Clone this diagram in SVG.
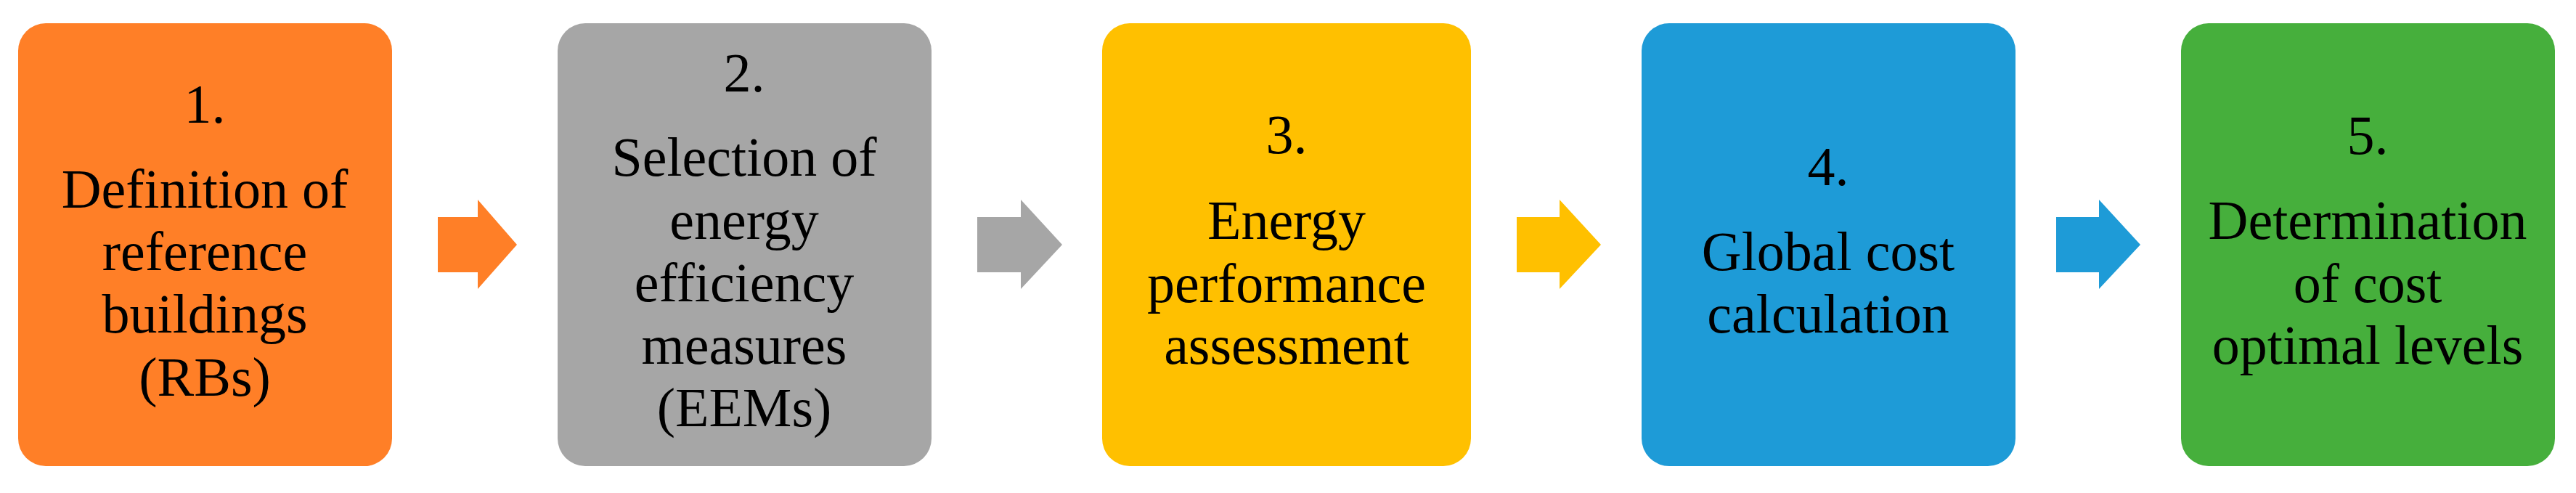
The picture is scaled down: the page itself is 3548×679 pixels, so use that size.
<svg xmlns="http://www.w3.org/2000/svg" width="3548" height="679" viewBox="0 0 3548 679">
<style>
.box{stroke:none}
.t{font-family:"Liberation Serif","Times New Roman",serif;font-size:76px;fill:#000;text-anchor:middle}
</style>
<rect x="0" y="0" width="3548" height="679" fill="#fff"/>
<g id="connectors">
<polygon fill="#FF7F27" points="603,299 658,299 658,275 712,337 658,398 658,375 603,375"/>
<polygon fill="#A6A6A6" points="1346,299 1406,299 1406,275 1463,337 1406,398 1406,375 1346,375"/>
<polygon fill="#FFC000" points="2089,299 2148,299 2148,275 2205,337 2148,398 2148,375 2089,375"/>
<polygon fill="#1E9BD7" points="2832,299 2891,299 2891,275 2948,337 2891,398 2891,375 2832,375"/>
</g>
<g id="node1">
<rect class="box" x="25" y="32" width="515" height="610" rx="38" fill="#FF7F27"/>
<text class="t" x="282" y="169">1.</text>
<text class="t" x="282" y="286">Definition of</text>
<text class="t" x="282" y="372">reference</text>
<text class="t" x="282" y="458">buildings</text>
<text class="t" x="282" y="545">(RBs)</text>
</g>
<g id="node2">
<rect class="box" x="768" y="32" width="515" height="610" rx="38" fill="#A6A6A6"/>
<text class="t" x="1025" y="126">2.</text>
<text class="t" x="1025" y="242">Selection of</text>
<text class="t" x="1025" y="329">energy</text>
<text class="t" x="1025" y="415">efficiency</text>
<text class="t" x="1025" y="501">measures</text>
<text class="t" x="1025" y="587">(EEMs)</text>
</g>
<g id="node3">
<rect class="box" x="1518" y="32" width="508" height="610" rx="38" fill="#FFC000"/>
<text class="t" x="1772" y="211">3.</text>
<text class="t" x="1772" y="329">Energy</text>
<text class="t" x="1772" y="416">performance</text>
<text class="t" x="1772" y="501">assessment</text>
</g>
<g id="node4">
<rect class="box" x="2261" y="32" width="515" height="610" rx="38" fill="#1E9BD7"/>
<text class="t" x="2518" y="255">4.</text>
<text class="t" x="2518" y="372">Global cost</text>
<text class="t" x="2518" y="458">calculation</text>
</g>
<g id="node5">
<rect class="box" x="3004" y="32" width="515" height="610" rx="38" fill="#46AF3C"/>
<text class="t" x="3261" y="212">5.</text>
<text class="t" x="3261" y="329">Determination</text>
<text class="t" x="3261" y="416">of cost</text>
<text class="t" x="3261" y="501">optimal levels</text>
</g>
</svg>
